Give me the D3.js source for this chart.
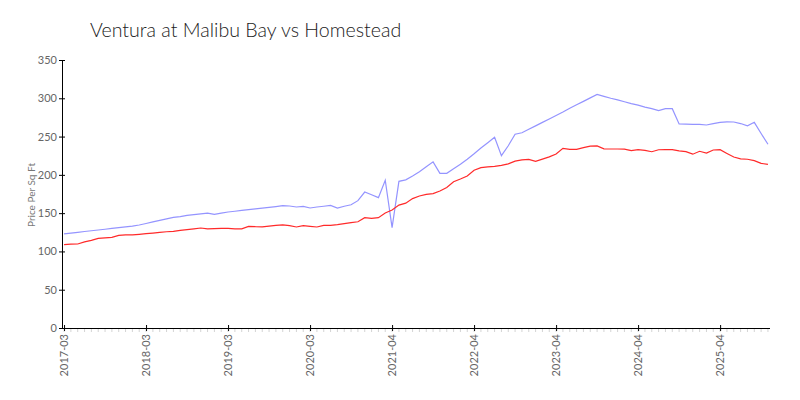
<!DOCTYPE html>
<html>
<head>
<meta charset="utf-8">
<script src="https://cdn.jsdelivr.net/npm/d3@7"></script>
<style>
  body { margin: 0; background: #fff; }
  svg { font-family: Lato, "Open Sans", sans-serif; }
</style>
</head>
<body>
<svg id="chart" width="800" height="400"></svg>
<script>
const months = [
  "2017-03","2017-04","2017-05","2017-06","2017-07","2017-08","2017-09","2017-10","2017-11","2017-12",
  "2018-01","2018-02","2018-03","2018-04","2018-05","2018-06","2018-07","2018-08","2018-09","2018-10","2018-11","2018-12",
  "2019-01","2019-02","2019-03","2019-04","2019-05","2019-06","2019-07","2019-08","2019-09","2019-10","2019-11","2019-12",
  "2020-01","2020-02","2020-03","2020-05","2020-06","2020-07","2020-08","2020-09","2020-10","2020-11","2020-12",
  "2021-01","2021-02","2021-03","2021-04","2021-05","2021-06","2021-07","2021-08","2021-09","2021-10","2021-11","2021-12",
  "2022-01","2022-02","2022-03","2022-04","2022-05","2022-06","2022-07","2022-08","2022-09","2022-10","2022-11","2022-12",
  "2023-01","2023-02","2023-03","2023-04","2023-05","2023-06","2023-07","2023-08","2023-09","2023-10","2023-11","2023-12",
  "2024-01","2024-02","2024-03","2024-04","2024-05","2024-06","2024-07","2024-08","2024-09","2024-10","2024-11","2024-12",
  "2025-01","2025-02","2025-03","2025-04","2025-05","2025-06","2025-07","2025-08","2025-09","2025-10","2025-11"
];

const seriesNames = ["Ventura at Malibu Bay", "Homestead"];

const venturaValues = [
  123,124,125,126,127,128,129,130,131,132,
  133,134.5,136.5,138.5,140.5,142.5,144.5,145.5,147,148,149,150,
  148.5,150,151.5,152.5,153.5,154.5,155.5,156.5,157.5,158.5,159.7,159.3,
  158,158.9,156.7,158,159,160.2,156.7,159,161,166.3,177.6,
  174,170.2,193,131,191.6,193.5,198.5,204,210.5,217,202,202,
  208,214,220.5,227.5,235,242,249,225,238,253,255,259.5,
  264,268.5,273,277.5,282,287,291.5,296,300.5,305,302.5,300,
  298,295.5,293,291,288.5,286.5,284,286.4,286.4,266.4,266.2,266,
  265.8,265.1,267,268.5,269.2,269,267,264,268.6,254,240
];

const homesteadValues = [
  109,109.5,109.7,112.5,114.5,117,117.8,118.3,121,121.5,
  121.5,122.3,123.2,124,125,125.7,126.3,127.5,128.5,129.5,130.6,129.5,
  129.8,130.2,130.2,129.5,129.5,132.8,132.3,132,133,134,134.8,133.6,
  131.9,133.6,132.8,131.9,134,134.1,135,136.2,137.5,138.8,144,
  143.3,144.1,150.2,154,160.5,163,169,172.4,174.6,175.5,178.9,183.5,
  191,194.5,198.5,206,209.4,210.5,211.2,212.5,214.3,218,219.5,220.3,
  217.7,220.5,223.5,227.2,234.7,233.4,233.4,235.5,237.5,237.8,234,233.8,
  233.8,233.6,231.6,232.9,232,230.2,232.8,232.9,232.9,231.3,230.3,227,
  230.8,228.5,232.5,232.9,228,223.3,220.8,220.4,218.5,215,213.8
];

const yTicks = [0,50,100,150,200,250,300,350];
const title = "Ventura at Malibu Bay vs Homestead";
const yLabel = "Price Per Sq Ft";
const colors = ["#9494ff", "#ff2a2a"];

const svg = d3.select("#chart");

const x = d3.scalePoint().domain(months).range([62, 770]).padding(0.3);
const y = d3.scaleLinear().domain([0, 350]).range([328, 60]);

// title
svg.append("text")
  .attr("x", 90).attr("y", 37)
  .attr("font-size", 19.6).attr("font-weight", 300)
  .attr("fill", "#222")
  .text(title);

// minor x ticks
svg.append("g").selectAll("line").data(months).join("line")
  .attr("x1", d => x(d)).attr("x2", d => x(d))
  .attr("y1", 328).attr("y2", 332)
  .attr("stroke", "#d4d4d4").attr("stroke-width", 1);

// x axis
const majorTicks = months.filter((d, i) => i % 12 === 0);
const xAxis = svg.append("g")
  .attr("transform", "translate(0,328)")
  .call(d3.axisBottom(x).tickValues(majorTicks).tickSizeOuter(0).tickSize(3));
xAxis.select(".domain").attr("d", "M62,0.5H770").attr("stroke", "#000");
xAxis.selectAll(".tick line").attr("y1", -3).attr("y2", 3).attr("stroke", "#000");
xAxis.selectAll(".tick text")
  .attr("transform", "rotate(-90)")
  .attr("text-anchor", "end")
  .attr("x", -6).attr("y", 0).attr("dy", "0.35em")
  .attr("fill", "#666").attr("font-size", 11)
  .attr("font-family", "Lato, 'Open Sans', sans-serif");

// y axis
const yAxis = svg.append("g")
  .attr("transform", "translate(62,0)")
  .call(d3.axisLeft(y).tickValues(yTicks).tickSizeOuter(0).tickSize(3));
yAxis.select(".domain").attr("stroke", "#000");
yAxis.selectAll(".tick line").attr("x1", -3).attr("x2", 3).attr("stroke", "#000");
yAxis.selectAll(".tick text")
  .attr("x", -5)
  .attr("fill", "#666").attr("font-size", 11)
  .attr("font-family", "Lato, 'Open Sans', sans-serif");

// y label
svg.append("text")
  .attr("transform", "translate(35,195) rotate(-90)")
  .attr("text-anchor", "middle")
  .attr("font-size", 10).attr("fill", "#777")
  .text(yLabel);

// lines
const line = d3.line().x((d, i) => x(months[i])).y(d => y(d));
[venturaValues, homesteadValues].forEach((vals, k) => {
  svg.append("path")
    .datum(vals)
    .attr("fill", "none")
    .attr("stroke", colors[k])
    .attr("stroke-width", 1.2)
    .attr("d", line)
    .append("title").text(seriesNames[k]);
});
</script>
</body>
</html>
